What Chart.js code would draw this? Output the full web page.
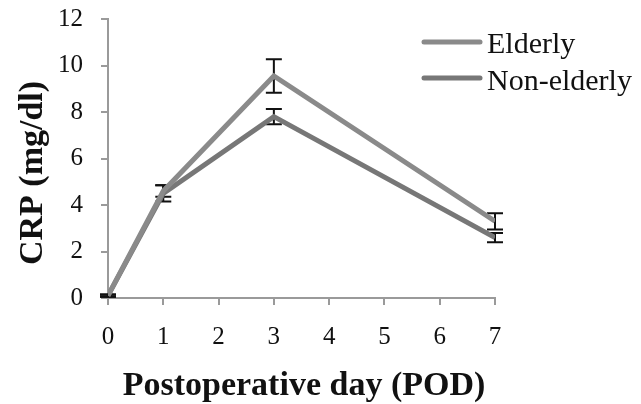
<!DOCTYPE html>
<html>
<head>
<meta charset="utf-8">
<script src="https://cdn.jsdelivr.net/npm/chart.js@4/dist/chart.umd.min.js"></script>
<style>
  html, body { margin: 0; padding: 0; background: #fff; }
  #wrap { width: 641px; height: 404px; }
</style>
</head>
<body>
<div id="wrap"><canvas id="chart" width="641" height="404"></canvas></div>
<script>
// values
const days = [0, 1, 3, 7];
const elderly = [0.1, 4.6, 9.55, 3.3];
const elderlyErr = [0.05, 0.25, 0.72, 0.35];
const nonElderly = [0.1, 4.5, 7.8, 2.6];
const nonElderlyErr = [0.05, 0.35, 0.33, 0.2];
const seriesNames = ['Elderly', 'Non-elderly'];
const xTitle = 'Postoperative day (POD)';
const yTitle = 'CRP (mg/dl)';

const serif = "'Liberation Serif', 'DejaVu Serif', serif";
const axisGray = '#9a9a9a';
const colors = ['#8a8a8a', '#777777'];

function points(vals) {
    return days.map((d, i) => ({ x: d, y: vals[i] }));
}

// error bars, drawn under the lines
const errorBars = {
    id: 'errorBars',
    beforeDatasetsDraw(chart) {
        const { ctx, scales } = chart;
        const errs = [elderlyErr, nonElderlyErr];
        ctx.save();
        ctx.strokeStyle = '#111';
        ctx.lineWidth = 2;
        chart.data.datasets.forEach((ds, di) => {
            ds.data.forEach((p, i) => {
                const x = scales.x.getPixelForValue(p.x);
                const yHi = scales.y.getPixelForValue(p.y + errs[di][i]);
                const yLo = scales.y.getPixelForValue(p.y - errs[di][i]);
                ctx.beginPath();
                ctx.moveTo(x, yHi); ctx.lineTo(x, yLo);
                ctx.moveTo(x - 8, yHi); ctx.lineTo(x + 8, yHi);
                ctx.moveTo(x - 8, yLo); ctx.lineTo(x + 8, yLo);
                ctx.stroke();
            });
        });
        ctx.restore();
    }
};

// axis titles and the legend
const labels = {
    id: 'labels',
    afterDraw(chart) {
        const ctx = chart.ctx;
        ctx.save();
        ctx.fillStyle = '#111';
        ctx.font = 'bold 34px ' + serif;
        ctx.textAlign = 'center';
        ctx.textBaseline = 'alphabetic';
        ctx.fillText(xTitle, 304, 395);

        ctx.translate(42, 173);
        ctx.rotate(-Math.PI / 2);
        ctx.fillText(yTitle, 0, 0);
        ctx.restore();

        ctx.save();
        ctx.lineCap = 'round';
        ctx.lineWidth = 5;
        ctx.font = '30px ' + serif;
        ctx.fillStyle = '#111';
        ctx.textBaseline = 'alphabetic';
        const rows = [{ y: 42, base: 53 }, { y: 78, base: 90 }];
        seriesNames.forEach((name, i) => {
            ctx.strokeStyle = colors[i];
            ctx.beginPath();
            ctx.moveTo(424, rows[i].y);
            ctx.lineTo(480, rows[i].y);
            ctx.stroke();
            ctx.fillText(name, 487, rows[i].base);
        });
        ctx.restore();
    }
};

new Chart(document.getElementById('chart'), {
    type: 'line',
    data: {
        datasets: [
            {
                label: seriesNames[0],
                data: points(elderly),
                borderColor: colors[0],
                backgroundColor: colors[0],
                borderWidth: 5,
                pointRadius: 0,
                tension: 0
            },
            {
                label: seriesNames[1],
                data: points(nonElderly),
                borderColor: colors[1],
                backgroundColor: colors[1],
                borderWidth: 5,
                pointRadius: 0,
                tension: 0
            }
        ]
    },
    options: {
        responsive: false,
        animation: false,
        layout: { padding: { left: 0, right: 146, top: 19, bottom: 0 } },
        plugins: {
            legend: { display: false },
            tooltip: { enabled: false }
        },
        scales: {
            x: {
                type: 'linear',
                min: 0,
                max: 7,
                afterFit(scale) { scale.height = 106; scale.paddingLeft = 0; scale.paddingRight = 0; },
                border: { color: axisGray, width: 2 },
                grid: { drawOnChartArea: false, drawTicks: true, tickLength: 7, color: axisGray, lineWidth: 2 },
                ticks: { stepSize: 1, padding: 17, color: '#111', font: { family: serif, size: 25 } }
            },
            y: {
                min: 0,
                max: 12,
                afterFit(scale) { scale.width = 108; scale.paddingTop = 0; scale.paddingBottom = 0; },
                border: { color: axisGray, width: 2 },
                grid: { drawOnChartArea: false, drawTicks: true, tickLength: 7, color: axisGray, lineWidth: 2 },
                ticks: { stepSize: 2, padding: 18, color: '#111', font: { family: serif, size: 25 } }
            }
        }
    },
    plugins: [errorBars, labels]
});
</script>
</body>
</html>
